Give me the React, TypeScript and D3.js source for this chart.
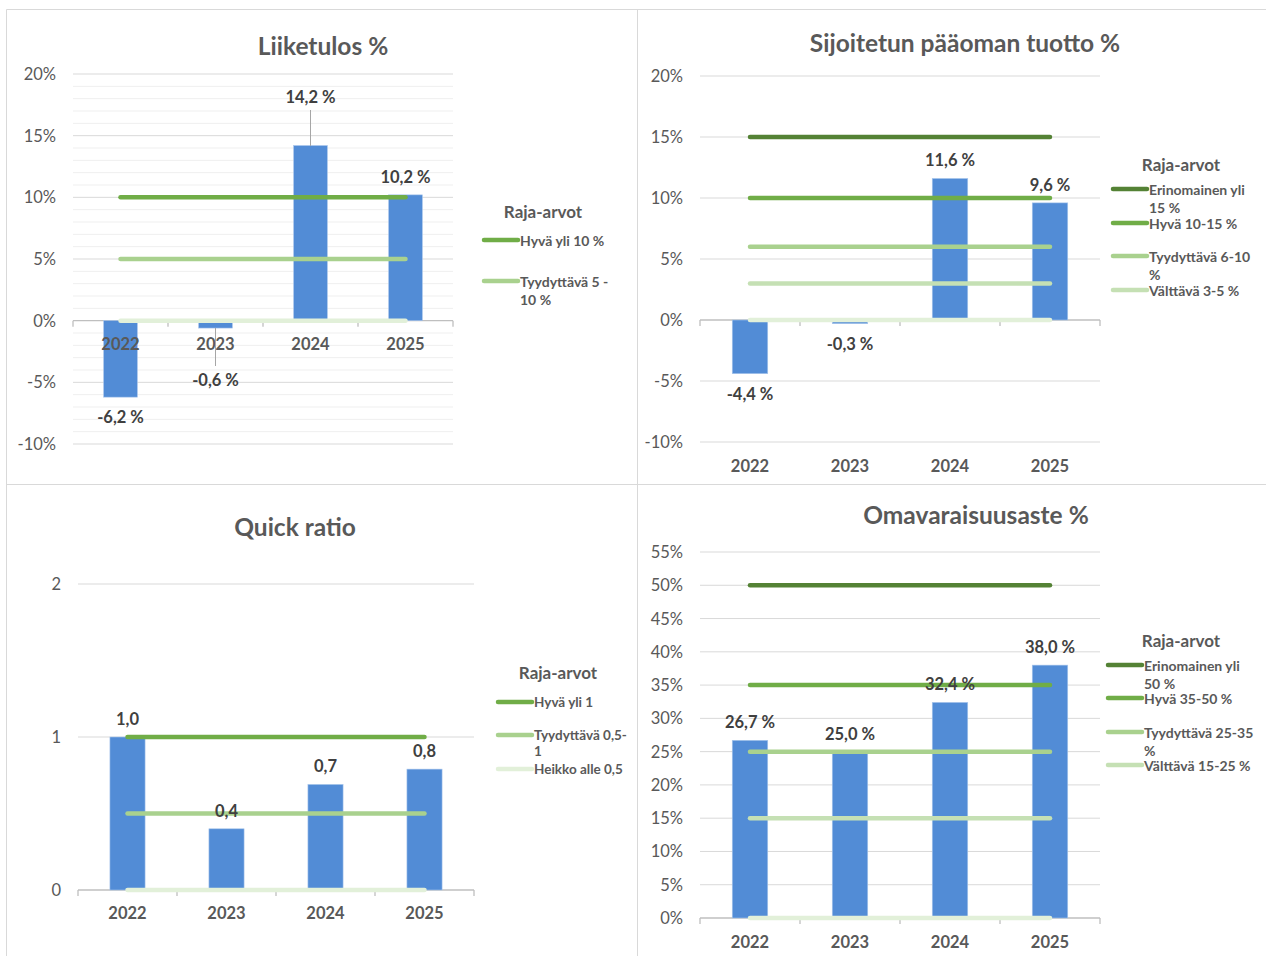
import React from "react";
import * as d3 from "d3";

// ---------- data ----------
const years = ["2022", "2023", "2024", "2025"];

const liiketulosValues = [-6.2, -0.6, 14.2, 10.2];
const liiketulosTicks = [-10, -5, 0, 5, 10, 15, 20];
const liiketulosMinorTicks = d3.range(-10, 21, 1);
const liiketulosThresholds = [10, 5, 0];
const liiketulosLegend = [["Hyvä yli 10 %"], ["Tyydyttävä 5 -", "10 %"]];

const sijoitetunValues = [-4.4, -0.3, 11.6, 9.6];
const sijoitetunTicks = [-10, -5, 0, 5, 10, 15, 20];
const sijoitetunThresholds = [15, 10, 6, 3, 0];
const sijoitetunLegend = [["Erinomainen yli", "15 %"], ["Hyvä 10-15 %"], ["Tyydyttävä 6-10", "%"], ["Välttävä 3-5 %"]];

const quickValues = [1.0, 0.4, 0.69, 0.79];
const quickTicks = [0, 1, 2];
const quickThresholds = [1, 0.5, 0];
const quickLegend = [["Hyvä yli 1"], ["Tyydyttävä 0,5-", "1"], ["Heikko alle 0,5"]];

const omavaraisuusValues = [26.7, 25.0, 32.4, 38.0];
const omavaraisuusTicks = [0, 5, 10, 15, 20, 25, 30, 35, 40, 45, 50, 55];
const omavaraisuusThresholds = [50, 35, 25, 15, 0];
const omavaraisuusLegend = [["Erinomainen yli", "50 %"], ["Hyvä 35-50 %"], ["Tyydyttävä 25-35", "%"], ["Välttävä 15-25 %"]];

// ---------- styles ----------
const FONT = "Lato, 'Open Sans', sans-serif";
const BAR = "#528cd6";
const GREEN_DARK = "#548235";
const GREEN_MID = "#70ad47";
const GREEN_LIGHT = "#a9d18e";
const GREEN_LIGHTER = "#c5e0b4";
const GREEN_PALE = "#e2f0d9";
const TEXT = "#595959";
const LABEL = "#404040";

const fmtPct = (v: number) => d3.format(".1f")(v).replace(".", ",").replace("−", "-") + " %";
const fmtRatio = (v: number) => d3.format(".1f")(v).replace(".", ",").replace("−", "-");
const fmtTickPct = (v: number) => `${v}%`;
const fmtTickNum = (v: number) => `${v}`;

type ChartProps = {
  title: string;
  titleX: number;
  titleY: number;
  values: number[];
  ticks: number[];
  minorTicks?: number[];
  domain: [number, number];
  left: number;
  right: number;
  yTop: number;
  yBottom: number;
  thresholds: number[];
  thresholdColors: string[];
  legend: string[][];
  legendColors: string[];
  legendX: number;
  legendTitleX: number;
  legendTitleY: number;
  legendRowsY: number[];
  legendWrap?: number;
  legendFont?: number;
  fmtLabel: (v: number) => string;
  fmtTick: (v: number) => string;
  catLabelY: number;
  labelOverride?: { [i: number]: { y: number; leaderFrom: number; leaderTo: number } };
};

function Chart(p: ChartProps) {
  const x = d3.scaleBand<string>().domain(years).range([p.left, p.right]).padding(0);
  const y = d3.scaleLinear().domain(p.domain).range([p.yBottom, p.yTop]);
  const bw = x.bandwidth() * 0.355;
  const cx = (c: string) => (x(c) as number) + x.bandwidth() / 2;
  const y0 = y(0);
  const x1 = cx(years[0]);
  const x2 = cx(years[years.length - 1]);
  const wrap = p.legendWrap ?? 18;
  const lf = p.legendFont ?? 14;
  return (
    <g fontFamily={FONT}>
      <text x={p.titleX} y={p.titleY} textAnchor="middle" dominantBaseline="central" fontSize={24.5} fontWeight={700} fill={TEXT}>
        {p.title}
      </text>
      {p.minorTicks &&
        p.minorTicks
          .filter((t) => !p.ticks.includes(t))
          .map((t) => (
            <line key={"m" + t} x1={p.left} x2={p.right} y1={y(t)} y2={y(t)} stroke="#efefef" strokeWidth={1} />
          ))}
      {p.ticks.map((t) => (
        <g key={"t" + t}>
          {t !== 0 && <line x1={p.left} x2={p.right} y1={y(t)} y2={y(t)} stroke="#d9d9d9" strokeWidth={1} />}
          <text x={p.left - 17} y={y(t)} textAnchor="end" dominantBaseline="central" fontSize={16.5} fill={TEXT}>
            {p.fmtTick(t)}
          </text>
        </g>
      ))}
      {/* category axis */}
      <line x1={p.left} x2={p.right} y1={y0} y2={y0} stroke="#bfbfbf" strokeWidth={1.3} />
      {d3.range(years.length + 1).map((i) => {
        const xx = p.left + i * x.bandwidth();
        return <line key={"k" + i} x1={xx} x2={xx} y1={y0} y2={y0 + 6} stroke="#bfbfbf" strokeWidth={1.3} />;
      })}
      {/* bars */}
      {years.map((c, i) => {
        const v = p.values[i];
        const top = Math.min(y(v), y0);
        const h = Math.abs(y(v) - y0);
        return <rect key={"b" + c} x={cx(c) - bw / 2} y={top} width={bw} height={h} fill={BAR} stroke="#a9c6ec" strokeWidth={0.6} />;
      })}
      {/* category labels */}
      {years.map((c) => (
        <text key={"c" + c} x={cx(c)} y={p.catLabelY} textAnchor="middle" dominantBaseline="central" fontSize={16.5} fontWeight={700} fill={TEXT}>
          {c}
        </text>
      ))}
      {/* threshold lines */}
      {p.thresholds.map((t, i) => (
        <line key={"th" + i} x1={x1} x2={x2} y1={y(t)} y2={y(t)} stroke={p.thresholdColors[i]} strokeWidth={4.5} strokeLinecap="round" />
      ))}
      {/* data labels */}
      {years.map((c, i) => {
        const v = p.values[i];
        const ov = p.labelOverride && p.labelOverride[i];
        const ly = ov ? ov.y : v >= 0 ? y(v) - 18 : y(v) + 20;
        return (
          <g key={"l" + c}>
            {ov && <line x1={cx(c)} x2={cx(c)} y1={ov.leaderFrom} y2={ov.leaderTo} stroke="#a6a6a6" strokeWidth={1} />}
            <text x={cx(c)} y={ly} textAnchor="middle" dominantBaseline="central" fontSize={16.5} fontWeight={700} fill={LABEL}>
              {p.fmtLabel(v)}
            </text>
          </g>
        );
      })}
      {/* legend */}
      <text x={p.legendTitleX} y={p.legendTitleY} textAnchor="middle" dominantBaseline="central" fontSize={17} fontWeight={700} fill={TEXT}>
        Raja-arvot
      </text>
      {p.legend.map((lines, i) => (
        <g key={"lg" + i}>
          <line x1={p.legendX} x2={p.legendX + 34} y1={p.legendRowsY[i]} y2={p.legendRowsY[i]} stroke={p.legendColors[i]} strokeWidth={4.5} strokeLinecap="round" />
          {lines.map((s, j) => (
            <text key={j} x={p.legendX + 36} y={p.legendRowsY[i] + j * wrap} dominantBaseline="central" fontSize={lf} fontWeight={700} fill={TEXT}>
              {s}
            </text>
          ))}
        </g>
      ))}
    </g>
  );
}

export default function App() {
  return (
    <svg width={1266} height={956} style={{ position: "absolute", left: 0, top: 0, background: "#fff" }}>
      <rect x={0} y={0} width={1266} height={956} fill="#fff" />
      {/* panel borders */}
      <line x1={6.5} x2={1266} y1={9.5} y2={9.5} stroke="#d9d9d9" />
      <line x1={6.5} x2={6.5} y1={9.5} y2={956} stroke="#d9d9d9" />
      <line x1={637.5} x2={637.5} y1={9.5} y2={956} stroke="#d9d9d9" />
      <line x1={6.5} x2={1266} y1={484.5} y2={484.5} stroke="#d9d9d9" />

      <Chart
        title="Liiketulos %"
        titleX={323}
        titleY={45}
        values={liiketulosValues}
        ticks={liiketulosTicks}
        minorTicks={liiketulosMinorTicks}
        domain={[-10, 20]}
        left={73}
        right={453}
        yTop={74}
        yBottom={444}
        thresholds={liiketulosThresholds}
        thresholdColors={[GREEN_MID, GREEN_LIGHT, GREEN_PALE]}
        legend={liiketulosLegend}
        legendColors={[GREEN_MID, GREEN_LIGHT]}
        legendX={484}
        legendTitleX={543}
        legendTitleY={211}
        legendRowsY={[240, 281]}
        fmtLabel={fmtPct}
        fmtTick={fmtTickPct}
        catLabelY={344}
        labelOverride={{ 1: { y: 380, leaderFrom: 328, leaderTo: 366 }, 2: { y: 97, leaderFrom: 110, leaderTo: 146 } }}
      />
      <Chart
        title="Sijoitetun pääoman tuotto %"
        titleX={965}
        titleY={42}
        values={sijoitetunValues}
        ticks={sijoitetunTicks}
        domain={[-10, 20]}
        left={700}
        right={1100}
        yTop={76}
        yBottom={442}
        thresholds={sijoitetunThresholds}
        thresholdColors={[GREEN_DARK, GREEN_MID, GREEN_LIGHT, GREEN_LIGHTER, GREEN_PALE]}
        legend={sijoitetunLegend}
        legendColors={[GREEN_DARK, GREEN_MID, GREEN_LIGHT, GREEN_LIGHTER]}
        legendX={1113}
        legendTitleX={1181}
        legendTitleY={164}
        legendRowsY={[189, 223, 256, 290]}
        fmtLabel={fmtPct}
        fmtTick={fmtTickPct}
        catLabelY={466}
      />
      <Chart
        title="Quick ratio"
        titleX={295}
        titleY={526}
        values={quickValues}
        ticks={quickTicks}
        domain={[0, 2]}
        left={78}
        right={474}
        yTop={584}
        yBottom={890}
        thresholds={quickThresholds}
        thresholdColors={[GREEN_MID, GREEN_LIGHT, GREEN_PALE]}
        legend={quickLegend}
        legendColors={[GREEN_MID, GREEN_LIGHT, GREEN_PALE]}
        legendX={498}
        legendTitleX={558}
        legendTitleY={672}
        legendRowsY={[702, 735, 769]}
        legendWrap={16}
        legendFont={13.5}
        fmtLabel={fmtRatio}
        fmtTick={fmtTickNum}
        catLabelY={913}
      />
      <Chart
        title="Omavaraisuusaste %"
        titleX={976}
        titleY={514}
        values={omavaraisuusValues}
        ticks={omavaraisuusTicks}
        domain={[0, 55]}
        left={700}
        right={1100}
        yTop={552}
        yBottom={918}
        thresholds={omavaraisuusThresholds}
        thresholdColors={[GREEN_DARK, GREEN_MID, GREEN_LIGHT, GREEN_LIGHTER, GREEN_PALE]}
        legend={omavaraisuusLegend}
        legendColors={[GREEN_DARK, GREEN_MID, GREEN_LIGHT, GREEN_LIGHTER]}
        legendX={1108}
        legendTitleX={1181}
        legendTitleY={640}
        legendRowsY={[665, 698, 732, 765]}
        fmtLabel={fmtPct}
        fmtTick={fmtTickPct}
        catLabelY={942}
      />
    </svg>
  );
}
